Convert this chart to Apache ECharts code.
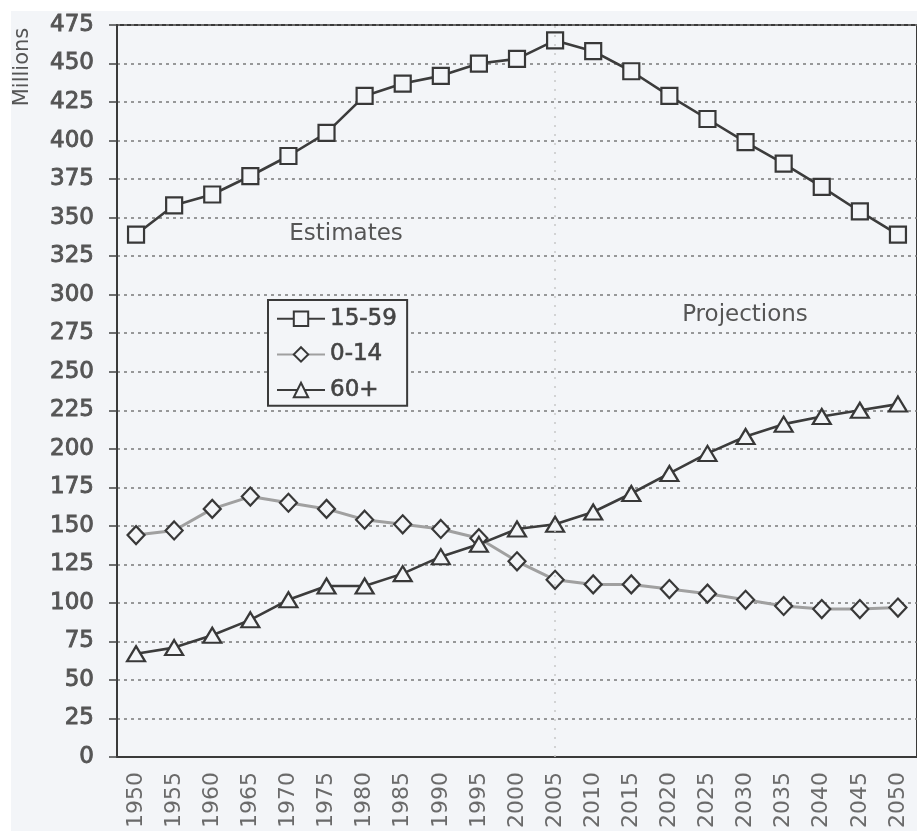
<!DOCTYPE html>
<html>
<head>
<meta charset="utf-8">
<script src="https://cdn.jsdelivr.net/npm/echarts@6/dist/echarts.min.js"></script>
<style>
  html, body { margin: 0; padding: 0; background: #ffffff; }
  #chart { width: 917px; height: 831px; }
</style>
</head>
<body>
<div id="chart"></div>
<script>
// Population by broad age group, millions (estimates to 2005, projections after)
const years = ['1950', '1955', '1960', '1965', '1970', '1975', '1980', '1985', '1990', '1995',
               '2000', '2005', '2010', '2015', '2020', '2025', '2030', '2035', '2040', '2045', '2050'];
const age15to59 = [339, 358, 365, 377, 390, 405, 429, 437, 442, 450,
                   453, 465, 458, 445, 429, 414, 399, 385, 370, 354, 339];
const age0to14  = [144, 147, 161, 169, 165, 161, 154, 151, 148, 142,
                   127, 115, 112, 112, 109, 106, 102, 98, 96, 96, 97];
const age60plus = [67, 71, 79, 89, 102, 111, 111, 119, 130, 138,
                   148, 151, 159, 171, 184, 197, 208, 216, 221, 225, 229];
const seriesNames = ['15-59', '0-14', '60+'];
const yMin = 0, yMax = 475, yStep = 25;
const splitYear = '2005';

const paper = '#f3f5f8';
const font = 'DejaVu Sans';

const chart = echarts.init(document.getElementById('chart'), null, { renderer: 'canvas' });

function lineSeries(name, data, symbol, size, lineColor, lineWidth) {
  return {
    name: name,
    type: 'line',
    data: data,
    symbol: symbol,
    symbolSize: size,
    showAllSymbol: true,
    lineStyle: { color: lineColor, width: lineWidth },
    itemStyle: { color: paper, borderColor: '#383838', borderWidth: 2.2 },
    emphasis: { disabled: true },
    z: 3
  };
}

const option = {
  animation: false,
  backgroundColor: paper,
  textStyle: { fontFamily: font },
  grid: {
    left: 117, right: -5, top: 25, bottom: 70,
    show: true, borderColor: '#3a3a3a', borderWidth: 2, backgroundColor: 'transparent'
  },
  legend: {
    orient: 'vertical',
    left: 268, top: 300,
    padding: [7, 10, 4, 8],
    itemWidth: 48, itemHeight: 18, itemGap: 12,
    backgroundColor: paper,
    borderColor: '#3a3a3a', borderWidth: 2,
    textStyle: { fontFamily: font, fontSize: 23, color: '#444', textBorderColor: '#444', textBorderWidth: 0.6 },
    selectedMode: false,
    data: seriesNames
  },
  xAxis: {
    type: 'category',
    data: years,
    boundaryGap: true,
    axisLine: { lineStyle: { color: '#3a3a3a', width: 2 } },
    axisTick: { length: 10, lineStyle: { color: '#444', width: 1.5 } },
    axisLabel: {
      interval: 0, rotate: 90, margin: 15,
      fontFamily: font, fontSize: 22, color: '#6a6a6a'
    },
    splitLine: { show: false }
  },
  yAxis: {
    type: 'value',
    min: yMin, max: yMax, interval: yStep,
    axisLine: { show: true, lineStyle: { color: '#3a3a3a', width: 2 } },
    axisTick: { show: true, length: 8, lineStyle: { color: '#444', width: 1.5 } },
    axisLabel: {
      margin: 23, fontFamily: font, fontSize: 23, color: '#555',
      textBorderColor: '#555', textBorderWidth: 0.9
    },
    splitLine: { lineStyle: { color: '#7a7a7a', width: 1.6, type: [3, 4] } }
  },
  series: [
    Object.assign(lineSeries(seriesNames[0], age15to59, 'rect', 16, '#3c3c3c', 2.6), {
      markLine: {
        silent: true, symbol: 'none', label: { show: false },
        lineStyle: { color: '#c8c8c8', type: [2, 7], width: 1.5 },
        data: [{ xAxis: splitYear }]
      }
    }),
    lineSeries(seriesNames[1], age0to14, 'diamond', [17, 18], '#a0a0a0', 3),
    lineSeries(seriesNames[2], age60plus, 'triangle', [18, 15], '#3c3c3c', 2.6)
  ],
  graphic: [
    { type: 'rect', shape: { x: 0, y: 0, width: 11, height: 831 }, style: { fill: '#ffffff' }, silent: true },
    { type: 'rect', shape: { x: 0, y: 0, width: 917, height: 11 }, style: { fill: '#ffffff' }, silent: true },
    {
      type: 'text', x: 23, y: 67, rotation: Math.PI / 2,
      style: { text: 'Millions', font: '21px "DejaVu Sans"', fill: '#555', textAlign: 'center', textVerticalAlign: 'middle' }
    },
    {
      type: 'text', x: 346, y: 234, z: 10,
      style: { text: 'Estimates', font: '23px "DejaVu Sans"', fill: '#555', textAlign: 'center', textVerticalAlign: 'middle' }
    },
    {
      type: 'text', x: 745, y: 315, z: 10,
      style: { text: 'Projections', font: '23px "DejaVu Sans"', fill: '#555', textAlign: 'center', textVerticalAlign: 'middle' }
    }
  ]
};

chart.setOption(option);
</script>
</body>
</html>
